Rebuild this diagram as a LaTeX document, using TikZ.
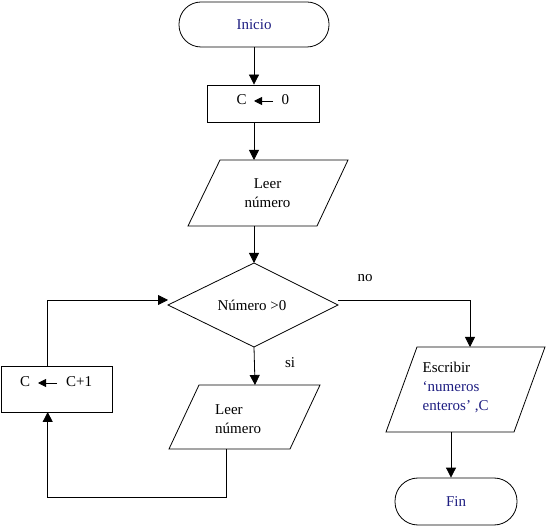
\documentclass[tikz,border=0pt]{standalone}
\usepackage{fontspec}
\setmainfont{Liberation Serif}
\usetikzlibrary{arrows.meta}
\definecolor{navy}{RGB}{30,30,130}
\tikzset{
  x=1pt, y=-1pt,
  lbl/.style={font=\fontsize{15}{19}\selectfont, inner sep=0pt},
  term/.style={draw, line width=0.8pt, inner sep=0pt, font=\fontsize{15}{19}\selectfont, text=navy},
  procbox/.style={draw, line width=0.8pt, inner sep=0pt},
  shapeline/.style={draw, line width=0.8pt},
  flow/.style={line width=0.8pt, -{Triangle[length=10pt,width=10pt]}},
  assign/.style={line width=0.9pt, -{Triangle[length=8pt,width=8pt]}}
}
\begin{document}
\begin{tikzpicture}
\useasboundingbox[fill=white] (0,0) rectangle (549,526);

% Inicio
\node[term, rounded corners=22pt, minimum width=150pt, minimum height=45pt] (inicio) at (254,24.5) {Inicio};

% C <- 0
\node[procbox, minimum width=112pt, minimum height=37pt] (box1) at (263,103.5) {};
\node[lbl, anchor=west] (c1) at (236.5,100) {C};
\node[lbl, anchor=west] (z1) at (281.5,100) {0};
\coordinate (a1s) at (273,101);
\coordinate (a1e) at (254,101);
\draw[assign] (a1s) -- (a1e);

% Leer numero 1
\coordinate (p1a) at (220,160);
\coordinate (p1b) at (348,160);
\coordinate (p1c) at (317,226);
\coordinate (p1d) at (188,226);
\draw[shapeline] (p1a) -- (p1b) -- (p1c) -- (p1d) -- cycle;
\node[lbl, align=center] (t1) at (267.5,193) {Leer\\número};
\coordinate (p1top) at (254,160);
\coordinate (p1bot) at (254,226);

% Diamond
\coordinate (dt) at (254,263);
\coordinate (dr) at (338,305);
\coordinate (db) at (254,347);
\coordinate (dl) at (168,305);
\draw[shapeline] (dt) -- (dr) -- (db) -- (dl) -- cycle;
\node[lbl] (dtext) at (252,305) {Número >0};
\coordinate (drout) at (338,300);
\coordinate (dlin) at (168,300);

% labels
\node[lbl] (no) at (365,278) {no};
\node[lbl] (si) at (290,363) {si};

% Leer numero 2
\coordinate (p2a) at (199,385);
\coordinate (p2b) at (320,385);
\coordinate (p2c) at (290,449);
\coordinate (p2d) at (169,449);
\draw[shapeline] (p2a) -- (p2b) -- (p2c) -- (p2d) -- cycle;
\node[lbl, align=left, anchor=west] (t2) at (215,419) {Leer\\número};
\coordinate (p2top) at (255,385);
\coordinate (p2bot) at (226.7,449);
\coordinate (loop1) at (226.7,497);
\coordinate (loop2) at (47.7,497);

% C <- C+1
\node[procbox, minimum width=111pt, minimum height=46pt] (box2) at (57,389) {};
\node[lbl, anchor=west] (c2) at (20,382) {C};
\node[lbl, anchor=west] (cp) at (66,382) {C+1};
\coordinate (a2s) at (57,383);
\coordinate (a2e) at (38,383);
\draw[assign] (a2s) -- (a2e);
\coordinate (b2bot) at (47.7,412);
\coordinate (b2top) at (47.7,366);
\coordinate (up1) at (47.7,300);

% Escribir
\coordinate (p3a) at (417,347);
\coordinate (p3b) at (545,347);
\coordinate (p3c) at (514,432);
\coordinate (p3d) at (386,432);
\draw[shapeline] (p3a) -- (p3b) -- (p3c) -- (p3d) -- cycle;
\node[lbl, align=left, anchor=north west] (t3) at (422.5,362) {Escribir\\\textcolor{navy}{‘numeros}\\\textcolor{navy}{enteros’ ,C}};
\coordinate (p3top) at (470,347);
\coordinate (right1) at (470,300);
\coordinate (p3bot) at (451,432);

% Fin
\node[term, rounded corners=23pt, minimum width=122pt, minimum height=47pt] (fin) at (456,501.5) {Fin};

% Connectors
\draw[flow] (inicio.south) -- (inicio.south |- box1.north);
\draw[flow] (inicio.south |- box1.south) -- (p1top);
\draw[flow] (p1bot) -- (dt);
\draw[flow] (drout) -- (right1) -- (p3top);
\draw[flow] (db) -- (p2top);
\draw[flow] (p3bot) -- (p3bot |- fin.north);
\draw[flow] (p2bot) -- (loop1) -- (loop2) -- (b2bot);
\draw[flow] (b2top) -- (up1) -- (dlin);
\end{tikzpicture}
\end{document}
